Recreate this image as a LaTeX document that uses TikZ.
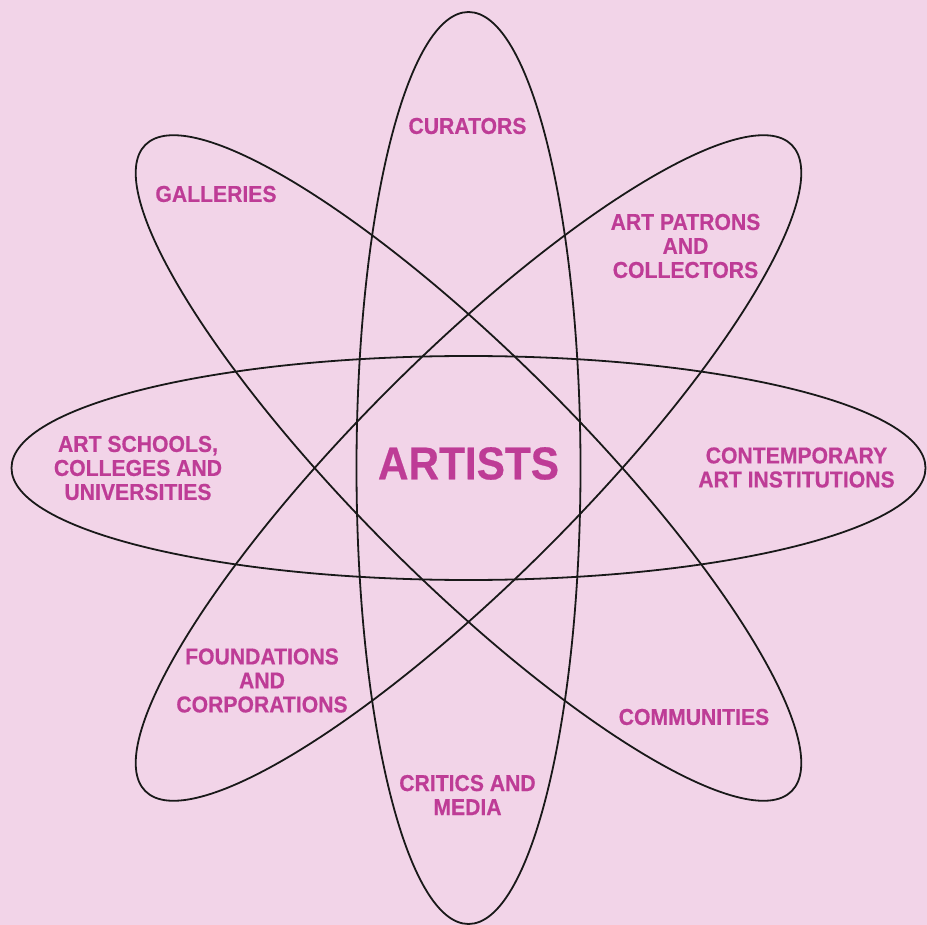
\documentclass[tikz,border=0pt]{standalone}
\usepackage{fontspec}
\setmainfont{Liberation Sans}[FakeStretch=0.92, BoldFeatures={FakeBold=0.5}]
\definecolor{bgpink}{RGB}{242,212,232}
\definecolor{labelmag}{RGB}{190,60,150}
\begin{document}
\begin{tikzpicture}[x=1pt,y=-1pt,
  orbit/.style={line width=1.8pt, draw=black!90},
  lbl/.style={text=labelmag, font=\bfseries\fontsize{23}{24}\selectfont, align=center, inner sep=0pt},
  biglbl/.style={text=labelmag, font=\bfseries\fontsize{46}{50}\selectfont, inner sep=0pt}]
\fill[bgpink] (0,0) rectangle (927,925);
\useasboundingbox (0,0) rectangle (927,925);
\coordinate (c) at (468.5,468);
\draw[orbit] (c) ellipse [x radius=457pt, y radius=112pt];
\draw[orbit] (c) ellipse [x radius=112pt, y radius=456pt];
\draw[orbit, rotate around={45:(c)}] (c) ellipse [x radius=457pt, y radius=112pt];
\draw[orbit, rotate around={-45:(c)}] (c) ellipse [x radius=457pt, y radius=112pt];
\node[biglbl] (artists) at (468.5,463.5) {ARTISTS};
\node[lbl] (curators) at (467.5,126) {CURATORS};
\node[lbl] (galleries) at (216,194) {GALLERIES};
\node[lbl] (patrons) at (685.5,246) {ART PATRONS\\AND\\COLLECTORS};
\node[lbl] (schools) at (138,468) {ART SCHOOLS,\\COLLEGES AND\\UNIVERSITIES};
\node[lbl] (contemp) at (796.5,467.5) {CONTEMPORARY\\ART INSTITUTIONS};
\node[lbl] (found) at (262,680.5) {FOUNDATIONS\\AND\\CORPORATIONS};
\node[lbl] (comm) at (694,717) {COMMUNITIES};
\node[lbl] (critics) at (467.5,795) {CRITICS AND\\MEDIA};
\end{tikzpicture}
\end{document}
